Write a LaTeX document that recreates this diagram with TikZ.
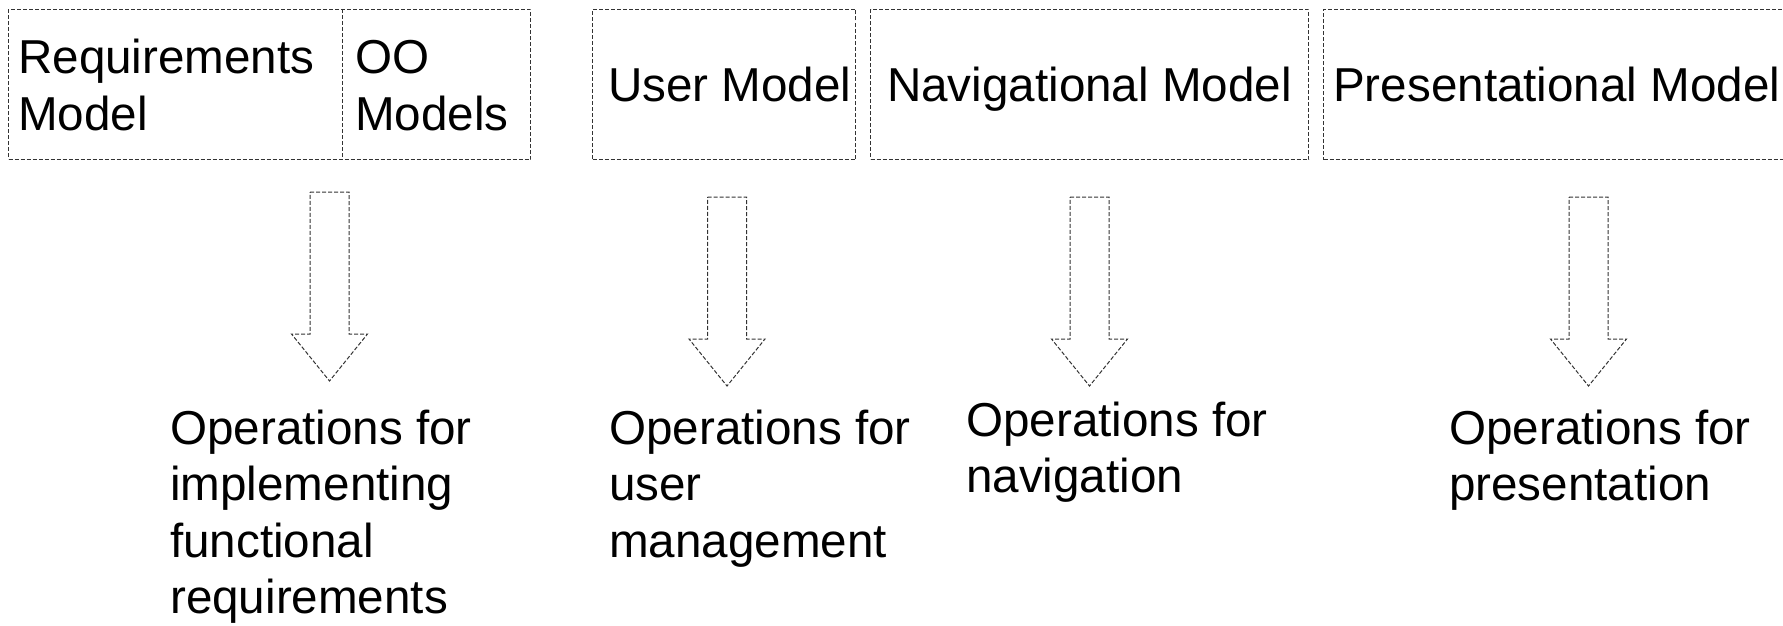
\documentclass[tikz,border=0pt]{standalone}
\usepackage{fontspec}
\setmainfont{Liberation Sans}
\usetikzlibrary{calc}

\tikzset{
  outline/.style={draw=black!80, line width=1pt, dash pattern=on 4pt off 2pt},
  box/.style={outline, rectangle, anchor=north west, inner sep=0pt, minimum height=150pt},
  label/.style={inner sep=0pt, font=\fontsize{47.6}{56.5}\selectfont},
  pics/blockarrow/.style={code={
    \draw[outline] (-19.5,0) -- (19.5,0) -- (19.5,142) -- (38,142) -- (0,189)
      -- (-38,142) -- (-19.5,142) -- cycle;}}
}

\newcommand{\lines}[1]{\begin{tabular}[t]{@{}l@{}}#1\end{tabular}}

\begin{document}
\begin{tikzpicture}[x=1pt, y=-1pt]
  \useasboundingbox (0,0) rectangle (1783,626);
  \clip (0,0) rectangle (1783,626);

  % model boxes along the top
  \node[box, minimum width=522pt] (req) at (8,9) {};
  \draw[outline] ($(req.north west)+(334,0)$) coordinate (divtop)
    -- ($(req.south west)+(334,0)$) coordinate (divbot);
  \node[box, minimum width=263pt] (user) at (592,9) {};
  \node[box, minimum width=438pt] (nav) at (870,9) {};
  \node[box, minimum width=472pt] (pres) at (1323,9) {};

  % box captions
  \node[label, anchor=base west] (reqtxt) at (18,74) {\lines{Requirements\\Model}};
  \node[label, anchor=base west] (ootxt) at (355,74) {\lines{OO\\Models}};
  \node[label, anchor=base west] (usertxt) at (608,102) {User Model};
  \node[label, anchor=base] (navtxt) at (nav.center |- 0,102) {Navigational Model};
  \node[label, anchor=base west] (prestxt) at (1333,102) {Presentational Model};

  % hollow block arrows
  \pic at (329.5,192) {blockarrow};
  \pic at (727,197) {blockarrow};
  \pic at (1089.5,197) {blockarrow};
  \pic at (1588.5,197) {blockarrow};

  % resulting operations
  \node[label, anchor=base west] (opreq) at (170,444)
    {\lines{Operations for\\implementing\\functional\\requirements}};
  \node[label, anchor=base west] (opuser) at (609,444)
    {\lines{Operations for\\user\\management}};
  \node[label, anchor=base west] (opnav) at (966,436)
    {\lines{Operations for\\navigation}};
  \node[label, anchor=base west] (oppres) at (1449,444)
    {\lines{Operations for\\presentation}};
\end{tikzpicture}
\end{document}
